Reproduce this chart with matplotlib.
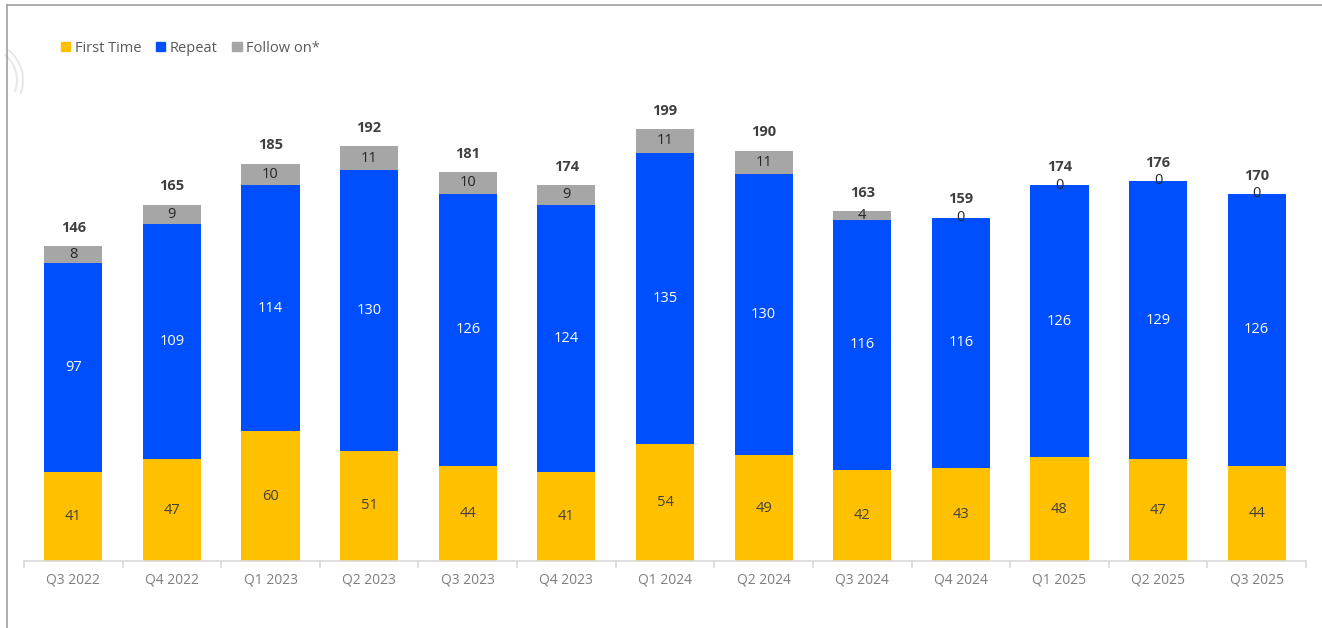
import numpy as np
import matplotlib
matplotlib.use("Agg")
import matplotlib.pyplot as plt
from matplotlib.lines import Line2D
from matplotlib.patches import Arc, Patch

quarters = ["Q3 2022", "Q4 2022", "Q1 2023", "Q2 2023", "Q3 2023", "Q4 2023",
            "Q1 2024", "Q2 2024", "Q3 2024", "Q4 2024", "Q1 2025", "Q2 2025", "Q3 2025"]
first_time = [41, 47, 60, 51, 44, 41, 54, 49, 42, 43, 48, 47, 44]
repeat = [97, 109, 114, 130, 126, 124, 135, 130, 116, 116, 126, 129, 126]
follow_on = [8, 9, 10, 11, 10, 9, 11, 11, 4, 0, 0, 0, 0]
totals = [146, 165, 185, 192, 181, 174, 199, 190, 163, 159, 174, 176, 170]

YELLOW = "#FFC000"
BLUE = "#004FFF"
GREY = "#A6A6A6"

plt.rcParams["font.family"] = ["Open Sans", "DejaVu Sans"]

W, H = 1322, 628
fig = plt.figure(figsize=(W / 100, H / 100), dpi=100)
# axes placed in pixel terms: baseline at y=561, left 24, right 1306
ymax = 230
px_per_unit = 2.16
ax_h = ymax * px_per_unit
ax = fig.add_axes([24 / W, (H - 561) / H, (1306 - 24) / W, ax_h / H])

x = np.arange(len(quarters))
w = 0.59
ft = np.array(first_time)
rp = np.array(repeat)
fo = np.array(follow_on)

ax.bar(x, ft, w, color=YELLOW, label="First Time")
ax.bar(x, rp, w, bottom=ft, color=BLUE, label="Repeat")
ax.bar(x, fo, w, bottom=ft + rp, color=GREY, label="Follow on*")

for i in range(len(x)):
    ax.text(x[i], ft[i] / 2, str(ft[i]), ha="center", va="center",
            fontsize=10.5, color="#404040")
    ax.text(x[i], ft[i] + rp[i] / 2, str(rp[i]), ha="center", va="center",
            fontsize=10.5, color="white")
    ax.text(x[i], ft[i] + rp[i] + fo[i] / 2, str(fo[i]), ha="center", va="center",
            fontsize=10.5, color="#262626")
    ax.annotate(str(totals[i]), (x[i], ft[i] + rp[i] + fo[i]), xytext=(0, 8),
                textcoords="offset points", ha="center", va="bottom",
                fontsize=10.5, fontweight="bold", color="#404040")

ax.set_xlim(-0.5, len(x) - 0.5)
ax.set_ylim(0, ymax)
ax.set_yticks([])
for s in ["top", "right", "left"]:
    ax.spines[s].set_visible(False)
ax.spines["bottom"].set_color("#D9D9D9")
ax.spines["bottom"].set_linewidth(1.2)
ax.set_xticks(x)
ax.set_xticklabels(quarters, fontsize=10, color="#7F7F7F")
ax.tick_params(axis="x", which="major", length=0, pad=8)
ax.set_xticks(np.arange(len(x) + 1) - 0.5, minor=True)
ax.tick_params(axis="x", which="minor", length=5, color="#D9D9D9", width=1.2)

handles = [Patch(color=YELLOW), Patch(color=BLUE), Patch(color=GREY)]
fig.legend(handles, ["First Time", "Repeat", "Follow on*"], loc="center left",
           bbox_to_anchor=(61 / W, 1 - 48 / H), ncol=3, frameon=False,
           fontsize=10.5, labelcolor="#595959", handlelength=0.65, handleheight=0.65,
           handletextpad=0.3, columnspacing=1.0, borderpad=0, borderaxespad=0)

# frame lines and faint decoration
fig.add_artist(Line2D([7 / W, 1], [1 - 5 / H, 1 - 5 / H], color="#A0A0A0", lw=1.2))
fig.add_artist(Line2D([7 / W, 7 / W], [0, 1 - 5 / H], color="#A0A0A0", lw=1.2))
for r in (38, 32):
    fig.add_artist(Arc((-15 / W, 1 - 80 / H), 2 * r / W, 2 * r / H, theta1=-40, theta2=70,
                       color="#E8E8E8", lw=1.5, transform=fig.transFigure))

fig.savefig("out.png", dpi=100, facecolor="white")
